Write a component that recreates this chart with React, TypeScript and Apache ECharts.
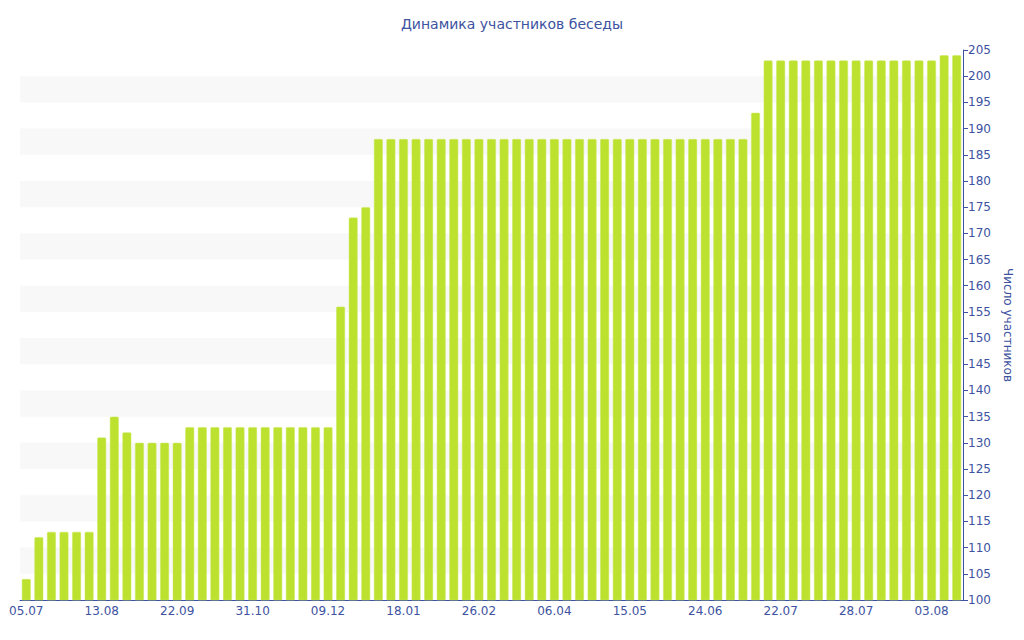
import React, { useEffect, useRef } from "react";
import * as echarts from "echarts";

const categories: string[] = [
  "05.07.2015", "11.07.2015", "18.07.2015", "24.07.2015", "31.07.2015", "06.08.2015",
  "13.08.2015", "19.08.2015", "26.08.2015", "01.09.2015", "08.09.2015", "15.09.2015",
  "22.09.2015", "28.09.2015", "05.10.2015", "11.10.2015", "18.10.2015", "24.10.2015",
  "31.10.2015", "06.11.2015", "13.11.2015", "19.11.2015", "26.11.2015", "02.12.2015",
  "09.12.2015", "15.12.2015", "22.12.2015", "28.12.2015", "04.01.2016", "11.01.2016",
  "18.01.2016", "24.01.2016", "31.01.2016", "06.02.2016", "13.02.2016", "19.02.2016",
  "26.02.2016", "04.03.2016", "11.03.2016", "17.03.2016", "24.03.2016", "30.03.2016",
  "06.04.2016", "12.04.2016", "19.04.2016", "25.04.2016", "02.05.2016", "08.05.2016",
  "15.05.2016", "21.05.2016", "28.05.2016", "03.06.2016", "10.06.2016", "17.06.2016",
  "24.06.2016", "29.06.2016", "04.07.2016", "09.07.2016", "13.07.2016", "18.07.2016",
  "22.07.2016", "23.07.2016", "24.07.2016", "25.07.2016", "26.07.2016", "27.07.2016",
  "28.07.2016", "29.07.2016", "30.07.2016", "31.07.2016", "01.08.2016", "02.08.2016",
  "03.08.2016", "04.08.2016", "05.08.2016",
];

const members: number[] = [
  104, 112, 113, 113, 113, 113,
  131, 135, 132, 130, 130, 130,
  130, 133, 133, 133, 133, 133,
  133, 133, 133, 133, 133, 133,
  133, 156, 173, 175, 188, 188,
  188, 188, 188, 188, 188, 188,
  188, 188, 188, 188, 188, 188,
  188, 188, 188, 188, 188, 188,
  188, 188, 188, 188, 188, 188,
  188, 188, 188, 188, 193, 203,
  203, 203, 203, 203, 203, 203,
  203, 203, 203, 203, 203, 203,
  203, 204, 204,
];

const TITLE = "Динамика участников беседы";
const Y_NAME = "Число участников";

const BLUE = "#3d52a0";
const FONT = "DejaVu Sans";

export default function App() {
  const ref = useRef<HTMLDivElement>(null);
  useEffect(() => {
    if (!ref.current) return;
    const chart = echarts.init(ref.current, undefined, { renderer: "svg" });
    chart.setOption({
      animation: false,
      backgroundColor: "#ffffff",
      title: {
        text: TITLE,
        left: "center",
        top: 12,
        textStyle: { color: BLUE, fontFamily: FONT, fontSize: 14, fontWeight: "normal" },
      },
      grid: { left: 20, right: 61, top: 50, bottom: 40 },
      xAxis: {
        type: "category",
        data: categories,
        axisLine: { lineStyle: { color: BLUE, width: 1 } },
        axisTick: { interval: 5, alignWithLabel: true, length: 3, lineStyle: { color: "#aaaaaa", width: 2 } },
        axisLabel: {
          interval: 5,
          color: BLUE,
          fontFamily: FONT,
          fontSize: 12,
          margin: 5,
          formatter: (v: string) => v.slice(0, 5),
        },
        splitLine: { show: false },
      },
      yAxis: {
        type: "value",
        position: "right",
        min: 100,
        max: 205,
        interval: 5,
        name: Y_NAME,
        nameLocation: "middle",
        nameRotate: -90,
        nameGap: 36,
        nameTextStyle: { color: BLUE, fontFamily: FONT, fontSize: 12 },
        axisLine: { show: true, lineStyle: { color: BLUE, width: 1 } },
        axisTick: { show: true, length: 5, lineStyle: { color: BLUE } },
        axisLabel: { color: BLUE, fontFamily: FONT, fontSize: 12, margin: 5 },
        splitLine: { show: false },
        splitArea: { show: true, areaStyle: { color: ["rgba(255,255,255,0)", "#f8f8f8"] } },
      },
      series: [
        {
          type: "bar",
          data: members,
          barCategoryGap: "30%",
          itemStyle: { color: "#bde12f", borderColor: "#c9e85a", borderWidth: 0.5, borderRadius: [1, 1, 0, 0] },
        },
      ],
    });
    return () => chart.dispose();
  }, []);
  return <div ref={ref} style={{ position: "fixed", left: 0, top: 0, width: 1024, height: 640 }} />;
}
